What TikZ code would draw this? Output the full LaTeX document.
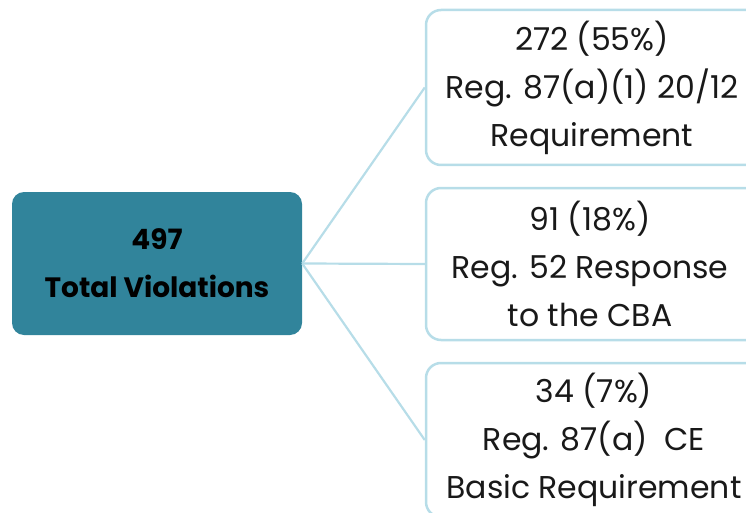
\documentclass[tikz,border=0pt]{standalone}
\usepackage{fontspec}
\setmainfont{Poppins}
\definecolor{teal1}{HTML}{31849B}
\definecolor{edge1}{HTML}{B7DDE8}
\begin{document}
\begin{tikzpicture}[x=1pt,y=1pt,
  mainbox/.style={draw=none,fill=teal1,rounded corners=12pt,minimum width=290pt,minimum height=143pt,inner sep=0pt,align=center,font=\fontsize{28}{48}\selectfont\bfseries,text=black},
  leafbox/.style={draw=edge1,line width=2.5pt,fill=white,rounded corners=15pt,minimum width=340pt,inner sep=0pt},
  leaftext/.style={align=center,font=\fontsize{31.5}{48}\selectfont,text=black!90,inner sep=0pt},
  link/.style={draw=edge1,line width=2.2pt}]
\useasboundingbox (0,0) rectangle (746,-513);
\clip (0,0) rectangle (746,-513);
\node[mainbox] (L) at (157,-263.5) {497\\Total Violations};
\node[leafbox,minimum height=155pt] (A) at (596,-87.5) {};
\node[leafbox,minimum height=152pt] (B) at (596,-264) {};
\node[leafbox,minimum height=154pt] (C) at (596,-440) {};
\draw[link] (L.east) -- (A.west);
\draw[link] (L.east) -- (B.west);
\draw[link] (L.east) -- (C.west);
\node[leaftext] (At) at (592,-88) {272 (55\%)\\Reg. 87(a)(1) 20/12\\Requirement};
\node[leaftext] (Bt) at (590,-264) {91 (18\%)\\Reg. 52 Response\\to the CBA};
\node[leaftext] (Ct) at (594,-440) {34 (7\%)\\Reg. 87(a)\ \ CE\\Basic Requirement};
\end{tikzpicture}
\end{document}
